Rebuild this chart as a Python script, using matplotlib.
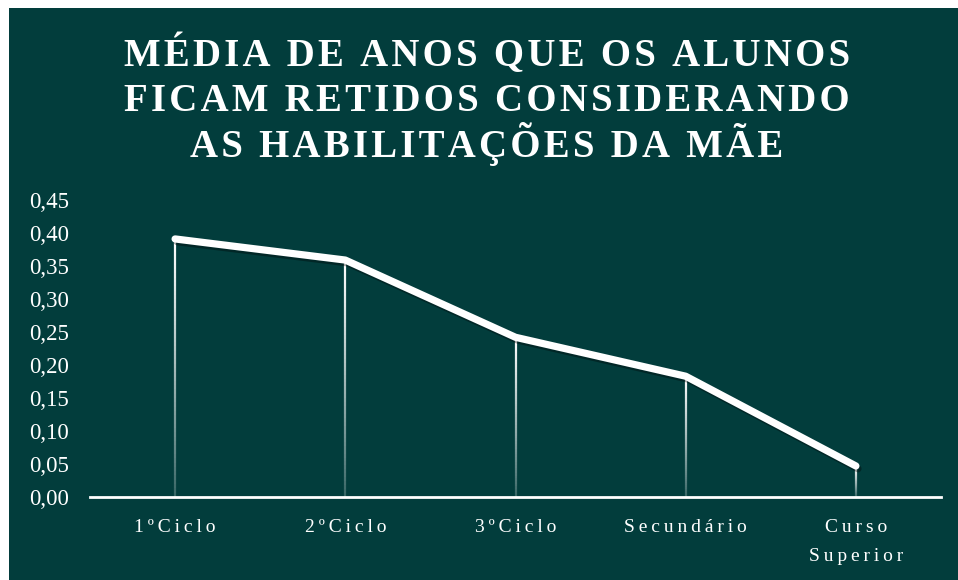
import numpy as np
import matplotlib
matplotlib.use("Agg")
import matplotlib.pyplot as plt
import matplotlib.patheffects as pe
from matplotlib.collections import LineCollection
from matplotlib.patches import Rectangle

# dados
categorias = ["1ºCiclo", "2ºCiclo", "3ºCiclo", "Secundário", "Curso\nSuperior"]
media_anos = [0.391, 0.359, 0.242, 0.183, 0.047]
y_ticks = [0.00, 0.05, 0.10, 0.15, 0.20, 0.25, 0.30, 0.35, 0.40, 0.45]

titulo = ["MÉDIA DE ANOS QUE OS ALUNOS",
          "FICAM RETIDOS CONSIDERANDO",
          "AS HABILITAÇÕES DA MÃE"]

FUNDO = "#023d3c"
FONTE = ["Liberation Serif", "DejaVu Serif"]


def espacar(txt, sep="\u200a"):
    # simula o espaçamento entre letras
    return "\n".join(sep.join(linha) for linha in txt.split("\n"))


fig = plt.figure(figsize=(9.58, 5.80), dpi=100)
fig.patch.set_facecolor("white")
fig.add_artist(Rectangle((9 / 958, 0), 1 - 9 / 958, 1 - 8 / 580,
                         transform=fig.transFigure, facecolor=FUNDO,
                         edgecolor="none", zorder=0))

ax = fig.add_axes([90 / 958, 83 / 580, 851 / 958, 297 / 580])
ax.set_facecolor("none")
x = np.arange(len(categorias))

# linhas verticais com degradê
for xi, yi in zip(x, media_anos):
    n = 60
    ys = np.linspace(0, yi, n + 1)
    segs = [[(xi, ys[i]), (xi, ys[i + 1])] for i in range(n)]
    alphas = np.linspace(0.15, 1.0, n) ** 0.8
    cores = [(1, 1, 1, a) for a in alphas]
    lc = LineCollection(segs, colors=cores, linewidths=1.6, zorder=2)
    ax.add_collection(lc)

ax.plot(x, media_anos, color="white", lw=5.2, solid_capstyle="round",
        solid_joinstyle="round", zorder=3, clip_on=False,
        path_effects=[pe.SimpleLineShadow(offset=(1.5, -2), shadow_color="black", alpha=0.35),
                      pe.Normal()])

ax.set_xlim(-0.5, len(categorias) - 0.5)
ax.set_ylim(0, 0.45)
ax.set_yticks(y_ticks)
ax.set_yticklabels([f"{v:.2f}".replace(".", ",") for v in y_ticks],
                   fontfamily=FONTE, fontsize=16.5, color="white")
ax.set_xticks(x)
ax.set_xticklabels([espacar(c, "\u2009") for c in categorias],
                   fontfamily=FONTE, fontsize=14, color="white",
                   linespacing=1.9, va="top")
ax.tick_params(axis="both", length=0)
ax.tick_params(axis="y", pad=15)
ax.tick_params(axis="x", pad=16)
for s in ["top", "right", "left"]:
    ax.spines[s].set_visible(False)
ax.spines["bottom"].set_color("white")
ax.spines["bottom"].set_linewidth(2)

# título, uma linha de cada vez para manter o espaçamento regular
for linha, base in zip(titulo, [66, 111, 157]):
    fig.text(487 / 958, 1 - base / 580, espacar(linha, "\u200a"), ha="center",
             va="baseline", fontfamily=FONTE, fontsize=28, fontweight="bold",
             color="white")

fig.savefig("out.png", dpi=100, facecolor=fig.get_facecolor())
